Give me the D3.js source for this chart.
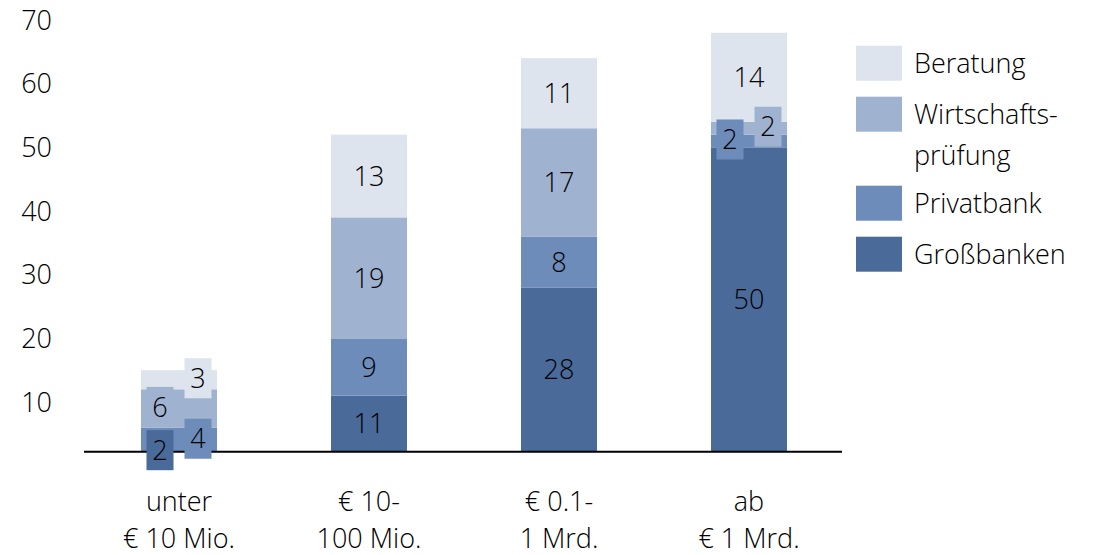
<!DOCTYPE html>
<html>
<head>
<meta charset="utf-8">
<script src="https://cdn.jsdelivr.net/npm/d3@7"></script>
<style>
  body { margin: 0; background: #fff; }
  svg text { font-family: "Open Sans", sans-serif; font-weight: 300; fill: #000; }
</style>
</head>
<body>
<script>
const categories = [["unter", "€ 10 Mio."], ["€ 10-", "100 Mio."], ["€ 0.1-", "1 Mrd."], ["ab", "€ 1 Mrd."]];
const seriesNames = ["Großbanken", "Privatbank", "Wirtschaftsprüfung", "Beratung"];
const grossbanken = [2, 11, 28, 50];
const privatbank = [4, 9, 8, 2];
const wirtschaft = [6, 19, 17, 2];
const beratung = [3, 13, 11, 14];
const yTicks = [10, 20, 30, 40, 50, 60, 70];
const legendLabels = [["Beratung"], ["Wirtschafts-", "prüfung"], ["Privatbank"], ["Großbanken"]];
// value where the category line crosses the bars
const axisValue = 2.2;
// side of the label for small segments: -1 left, 1 right (per bar, per series)
const labelSide = [[-1, 1, -1, 1], [0, 0, 0, 0], [0, 0, 0, 0], [0, -1, 1, 0]];

const colors = ["#4a6a9a", "#6d8cba", "#9fb3d1", "#dde4ee"];

const w = 1094, h = 555;
const svg = d3.select("body").append("svg").attr("width", w).attr("height", h);

const x = d3.scaleBand().domain(d3.range(categories.length)).range([84, 844]).paddingInner(0.6).paddingOuter(0.3);
const y = d3.scaleLinear().domain([0, 70]).range([465.7, 20]);

const values = [grossbanken, privatbank, wirtschaft, beratung];
const rows = categories.map((c, i) => {
  const r = { i: i };
  seriesNames.forEach((s, k) => r[s] = values[k][i]);
  return r;
});
const stacked = d3.stack().keys(seriesNames)(rows);

const base = y(axisValue);

// bars
svg.append("g").selectAll("g").data(stacked).enter().append("g")
  .attr("fill", (d, k) => colors[k])
  .selectAll("rect").data(d => d).enter().append("rect")
  .attr("x", d => x(d.data.i))
  .attr("width", x.bandwidth())
  .attr("y", d => y(d[1]))
  .attr("height", d => Math.max(0, Math.min(base, y(d[0])) - y(d[1])));

// category line
svg.append("line")
  .attr("x1", 84).attr("x2", 842).attr("y1", base).attr("y2", base)
  .attr("stroke", "#000").attr("stroke-width", 2);

// value labels
const labels = [];
stacked.forEach((s, k) => s.forEach(d => {
  const side = labelSide[d.data.i][k];
  const y0 = Math.min(base, y(d[0]));
  let cy = (y0 + y(d[1])) / 2;
  if (side !== 0) cy = Math.min(base, y((d[0] + d[1]) / 2)) - 1.5;
  labels.push({ k: k, v: d.data[seriesNames[k]], side: side, cx: x(d.data.i) + x.bandwidth() / 2 + side * 19, cy: cy });
}));

svg.append("g").selectAll("rect").data(labels.filter(d => d.side !== 0)).enter().append("rect")
  .attr("x", d => d.cx - 13.5).attr("y", d => d.cy - 20)
  .attr("width", 27).attr("height", 40)
  .attr("fill", d => colors[d.k]);

svg.append("g").selectAll("text").data(labels).enter().append("text")
  .attr("x", d => d.cx).attr("y", d => d.cy).attr("dy", "0.36em")
  .attr("text-anchor", "middle").style("font-size", "27px")
  .text(d => d.v);

// y tick labels
svg.append("g").selectAll("text").data(yTicks).enter().append("text")
  .attr("x", 52).attr("y", d => y(d)).attr("dy", "0.36em")
  .attr("text-anchor", "end").style("font-size", "27px")
  .text(d => d);

// category labels
const cat = svg.append("g").selectAll("text").data(categories).enter().append("text")
  .attr("text-anchor", "middle").style("font-size", "27px");
cat.selectAll("tspan").data((d, i) => d.map(t => ({ t: t, i: i }))).enter().append("tspan")
  .attr("x", d => x(d.i) + x.bandwidth() / 2)
  .attr("y", (d, j) => 501 + j * 37).attr("dy", "0.36em")
  .text(d => d.t);

// legend
const legendColors = colors.slice().reverse();
let ly = 45.7;
legendLabels.forEach((lines, k) => {
  svg.append("rect").attr("x", 856).attr("y", ly).attr("width", 46).attr("height", 35).attr("fill", legendColors[k]);
  lines.forEach((t, j) => {
    svg.append("text").attr("x", 914).attr("y", ly + 18 + j * 41).attr("dy", "0.36em")
      .style("font-size", "27px").text(t);
  });
  ly += 51 + (lines.length - 1) * 38;
});
</script>
</body>
</html>
